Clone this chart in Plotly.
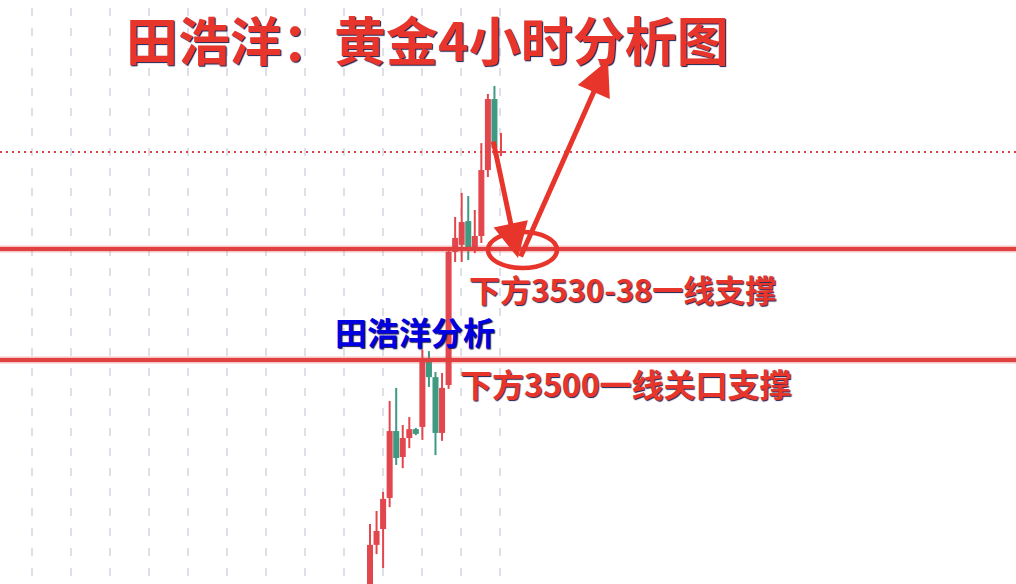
import plotly.graph_objects as go

# ---- data (gold 4h candles) ----
idx   = list(range(21))
opens = [3425.6, 3441.7, 3446.7, 3456.5, 3477.6, 3469.4, 3475.4, 3478.2, 3478.9, 3499.4, 3494.6,
         3477.0, 3492.1, 3534.1, 3536.3, 3543.8, 3535.6, 3539.1, 3559.9, 3582.3, 3565.3]
highs = [3448.3, 3452.4, 3458.4, 3487.1, 3491.2, 3479.5, 3482.0, 3478.6, 3503.2, 3502.8, 3496.2,
         3495.9, 3534.7, 3545.1, 3552.7, 3551.7, 3547.3, 3568.4, 3583.9, 3586.4, 3571.6]
lows  = [3422.4, 3438.8, 3434.4, 3453.6, 3466.9, 3465.9, 3472.2, 3476.3, 3474.8, 3491.5, 3470.0,
         3474.5, 3490.9, 3530.9, 3530.9, 3531.5, 3533.7, 3536.9, 3557.7, 3564.6, 3564.3]
closes= [3441.7, 3446.1, 3456.2, 3477.6, 3469.1, 3475.4, 3478.2, 3476.7, 3500.0, 3494.6, 3477.0,
         3491.2, 3534.1, 3538.5, 3543.5, 3535.6, 3539.1, 3559.9, 3582.3, 3566.9, 3565.9]

support_1 = 3535.0
support_2 = 3500.0
last_price = 3565.6

title_text = "田浩洋：黄金4小时分析图"
label_1 = "下方3530-38一线支撑"
label_2 = "下方3500一线关口支撑"
label_3 = "田浩洋分析"

UP = "#e3474e"
DOWN = "#3f9a82"
RED = "#e8352b"

W, H = 1016, 584

fig = go.Figure()

# wicks
for col, cond in ((UP, lambda o, c: c >= o), (DOWN, lambda o, c: c < o)):
    xs, ys = [], []
    for i, o, h, l, c in zip(idx, opens, highs, lows, closes):
        if cond(o, c):
            xs += [i, i, None]
            ys += [l, h, None]
    fig.add_trace(go.Scatter(x=xs, y=ys, mode="lines", line=dict(color=col, width=2),
                             hoverinfo="skip", showlegend=False))

# bodies
base = [min(o, c) for o, c in zip(opens, closes)]
hgt = [max(abs(c - o), 0.4) for o, c in zip(opens, closes)]
cols = [UP if c >= o else DOWN for o, c in zip(opens, closes)]
fig.add_trace(go.Bar(x=idx, y=hgt, base=base, width=0.92,
                     marker=dict(color=cols, line=dict(width=0)), showlegend=False))

shapes = []
# vertical dashed grid
grid_x = [-51.6 + 5.954 * j for j in range(13)]
for gx in grid_x:
    shapes.append(dict(type="line", xref="x", yref="paper", x0=gx, x1=gx,
                       y0=1 - 8 / H, y1=0, layer="below",
                       line=dict(color="#dde0e8", width=2, dash="8px,12px")))
# support lines
for yv in (support_1, support_2):
    shapes.append(dict(type="line", xref="paper", yref="y", x0=0, x1=1, y0=yv, y1=yv,
                       layer="above", line=dict(color="rgba(224,64,63,0.3)", width=7)))
    shapes.append(dict(type="line", xref="paper", yref="y", x0=0, x1=1, y0=yv, y1=yv,
                       layer="above", line=dict(color="#e0403f", width=4)))
# last price dotted
shapes.append(dict(type="line", xref="paper", yref="y", x0=0, x1=1, y0=last_price, y1=last_price,
                   layer="above", line=dict(color="#e0403f", width=2, dash="2px,4px")))
# ellipse
shapes.append(dict(type="circle", xref="paper", yref="paper",
                   x0=488 / W, x1=557 / W, y0=1 - 268 / H, y1=1 - 232 / H,
                   line=dict(color=RED, width=4.5)))

fig.update_layout(shapes=shapes)

sh = "1px 1px 1px #1c1c50"
ann = [
    dict(text=title_text, x=427 / W, y=1, xanchor="center", yanchor="top", borderpad=0,
         font=dict(family="Noto Sans CJK SC", size=52, color=RED, weight=700, shadow=sh)),
    dict(text=label_1, x=467 / W, y=1 - 289 / H, xanchor="left", yanchor="middle",
         font=dict(family="Noto Sans CJK SC", size=31, color=RED, weight=700, shadow=sh)),
    dict(text=label_3, x=333 / W, y=1 - 331 / H, xanchor="left", yanchor="middle",
         font=dict(family="Noto Sans CJK SC", size=32, color="#0000e0", weight=700, shadow=sh)),
    dict(text=label_2, x=458 / W, y=1 - 383 / H, xanchor="left", yanchor="middle",
         font=dict(family="Noto Sans CJK SC", size=32, color=RED, weight=700, shadow=sh)),
]
for a in ann:
    a.update(xref="paper", yref="paper", showarrow=False)

arrows = [
    dict(x=518 / W, y=1 - 258 / H, ax=-25, ay=-118),
    dict(x=608 / W, y=1 - 60 / H, ax=-88, ay=198),
]
for a in arrows:
    a.update(xref="paper", yref="paper", text="", showarrow=True, arrowhead=2,
             arrowsize=1.4, arrowwidth=5, arrowcolor=RED, standoff=0)
fig.update_layout(annotations=ann + arrows)

fig.update_layout(
    width=W, height=H, margin=dict(l=0, r=0, t=0, b=0),
    paper_bgcolor="white", plot_bgcolor="white",
    barmode="overlay", showlegend=False,
    xaxis=dict(range=[-56.49, 98.63], visible=False, showgrid=False, zeroline=False),
    yaxis=dict(range=[3429.36, 3613.53], visible=False, showgrid=False, zeroline=False),
)

fig.write_html("out.html", config={"displayModeBar": False},
               post_script="document.body.style.margin='0';document.body.style.overflow='hidden';")
